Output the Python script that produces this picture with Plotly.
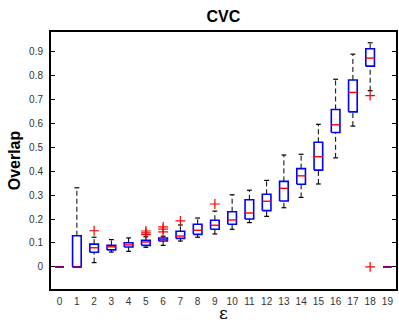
import plotly.graph_objects as go

eps = list(range(20))
q1 = [0, 0, 0.061, 0.071, 0.083, 0.090, 0.108, 0.119, 0.136, 0.157, 0.178, 0.200, 0.235, 0.275, 0.345, 0.404, 0.561, 0.647, 0.8375, 0]
med = [0, 0, 0.080, 0.084, 0.092, 0.104, 0.114, 0.129, 0.153, 0.174, 0.196, 0.225, 0.274, 0.328, 0.380, 0.460, 0.593, 0.728, 0.871, 0]
q3 = [0, 0.130, 0.095, 0.090, 0.101, 0.111, 0.121, 0.149, 0.178, 0.195, 0.230, 0.280, 0.303, 0.357, 0.410, 0.520, 0.657, 0.780, 0.910, 0]
lo = [0, 0, 0.018, 0.062, 0.065, 0.082, 0.090, 0.108, 0.124, 0.1375, 0.157, 0.185, 0.211, 0.247, 0.290, 0.346, 0.455, 0.5875, 0.735, 0]
hi = [0, 0.330, 0.124, 0.114, 0.121, 0.126, 0.128, 0.175, 0.204, 0.233, 0.301, 0.320, 0.361, 0.467, 0.470, 0.595, 0.783, 0.8875, 0.935, 0]
out_x = [2, 5, 5, 5, 6, 6, 6, 7, 9, 18, 18]
out_y = [0.151, 0.135, 0.142, 0.150, 0.146, 0.158, 0.167, 0.192, 0.2625, 0.715, 0]

BW = 0.25   # half box width
CW = 0.14   # half cap width

fig = go.Figure()

# whiskers (dashed)
wx, wy = [], []
for x, a, b, c, d in zip(eps, lo, q1, q3, hi):
    wx += [x, x, None, x, x, None]
    wy += [a, b, None, c, d, None]
fig.add_trace(go.Scatter(x=wx, y=wy, mode="lines",
                         line=dict(color="black", width=1, dash="5px,3px"),
                         hoverinfo="skip", showlegend=False))
# caps
cx, cy = [], []
for x, a, d in zip(eps, lo, hi):
    cx += [x - CW, x + CW, None, x - CW, x + CW, None]
    cy += [a, a, None, d, d, None]
fig.add_trace(go.Scatter(x=cx, y=cy, mode="lines",
                         line=dict(color="black", width=1.2),
                         hoverinfo="skip", showlegend=False))
# boxes
bx, by = [], []
for x, b, c in zip(eps, q1, q3):
    bx += [x - BW, x + BW, x + BW, x - BW, x - BW, None]
    by += [b, b, c, c, b, None]
fig.add_trace(go.Scatter(x=bx, y=by, mode="lines",
                         line=dict(color="#0000ff", width=1.6),
                         hoverinfo="skip", showlegend=False))
# medians
mx_r, my_r, mx_p, my_p = [], [], [], []
for x, m, b, c in zip(eps, med, q1, q3):
    if m == b or m == c:
        mx_p += [x - BW, x + BW, None]
        my_p += [m, m, None]
    else:
        mx_r += [x - BW, x + BW, None]
        my_r += [m, m, None]
fig.add_trace(go.Scatter(x=mx_r, y=my_r, mode="lines",
                         line=dict(color="#ff0000", width=1.4),
                         hoverinfo="skip", showlegend=False))
fig.add_trace(go.Scatter(x=mx_p, y=my_p, mode="lines",
                         line=dict(color="#800080", width=2),
                         hoverinfo="skip", showlegend=False))
# outliers
fig.add_trace(go.Scatter(x=out_x, y=out_y, mode="markers",
                         marker=dict(symbol="cross-thin", size=7,
                                     line=dict(color="#ff0000", width=1.2)),
                         hoverinfo="skip", showlegend=False))

fig.update_layout(
    width=399, height=324,
    margin=dict(l=51, r=1, t=32, b=35),
    paper_bgcolor="white", plot_bgcolor="white",
    font=dict(family="Liberation Sans, Arial, sans-serif", color="#262626"),
    title=dict(text="<b>CVC</b>", x=0.56, xanchor="center", y=0.95, yanchor="middle",
               font=dict(size=16, color="black")),
    showlegend=False,
    annotations=[dict(text="ε", xref="paper", yref="paper", x=0.4986, y=-0.093,
                      xanchor="center", yanchor="middle", showarrow=False,
                      font=dict(size=17, color="black", family="DejaVu Serif, serif"))],
)
fig.update_xaxes(range=[-0.5, 19.5], tickmode="array", tickvals=eps,
                 ticktext=[str(e) for e in eps], ticks="", showgrid=False,
                 zeroline=False, showline=True, mirror=True, linecolor="black",
                 linewidth=2, tickfont=dict(size=10, color="#333333"),
                 ticklabelstandoff=2)
fig.update_yaxes(range=[-0.092, 0.98], tickmode="array",
                 tickvals=[0, 0.1, 0.2, 0.3, 0.4, 0.5, 0.6, 0.7, 0.8, 0.9],
                 ticktext=["0", "0.1", "0.2", "0.3", "0.4", "0.5", "0.6", "0.7", "0.8", "0.9"],
                 ticks="inside", ticklen=4, tickcolor="black", showgrid=False,
                 zeroline=False, showline=True, mirror="ticks", linecolor="black",
                 linewidth=2, tickfont=dict(size=10, color="#333333"),
                 ticklabelstandoff=4,
                 title=dict(text="<b>Overlap</b>", font=dict(size=16, color="black"),
                            standoff=4))

fig.write_html("out.html")
